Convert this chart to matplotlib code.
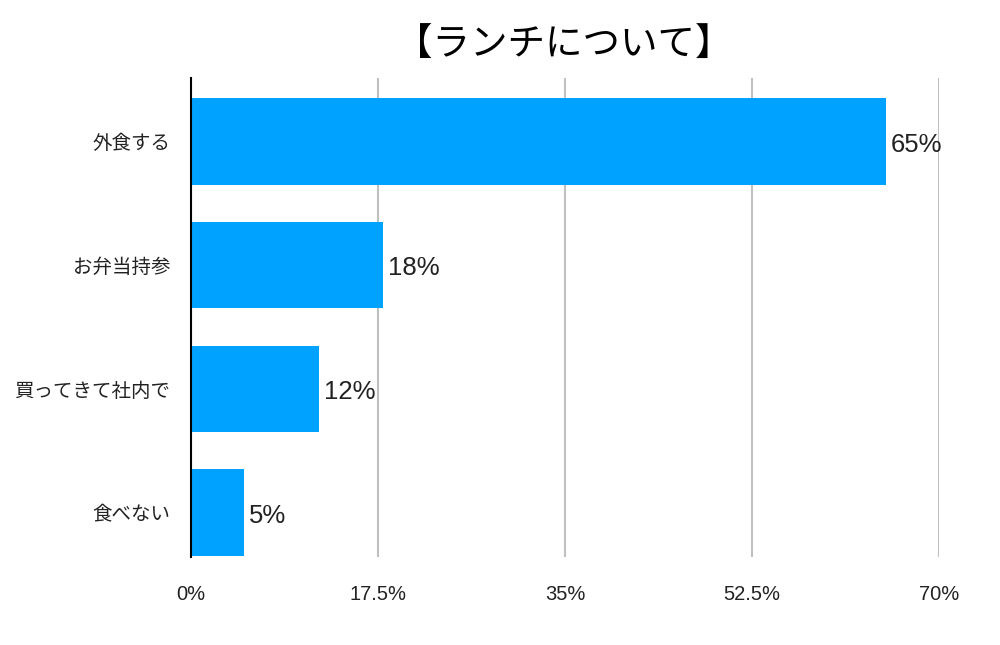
import matplotlib
matplotlib.use("Agg")
import matplotlib.pyplot as plt

plt.rcParams['font.family'] = ['Noto Sans CJK JP', 'DejaVu Sans']
num_font = ['Liberation Sans', 'DejaVu Sans']

categories = ['外食する', 'お弁当持参', '買ってきて社内で', '食べない']
values = [65, 18, 12, 5]
xticks = [0, 17.5, 35, 52.5, 70]
xticklabels = ['0%', '17.5%', '35%', '52.5%', '70%']

fig = plt.figure(figsize=(10, 6.45), dpi=100)
ax = fig.add_axes([0.191, 0.1364, 0.748, 0.7426])

ypos = range(len(categories))
ax.barh(ypos, values, height=0.70, color='#00A2FF', zorder=2)
for y, v in zip(ypos, values):
    ax.text(v + 0.45, y + 0.025, f'{v}%', va='center', ha='left', fontsize=18.5,
            color='#222222', family=num_font)

ax.set_xlim(0, 70)
ax.set_ylim(3.36, -0.513)
ax.set_xticks(xticks)
ax.set_xticklabels(xticklabels, fontsize=14.5, color='#222222', family=num_font)
ax.set_yticks(list(ypos))
ax.set_yticklabels(categories, fontsize=14, color='#222222')
ax.tick_params(axis='x', length=0, pad=20)
ax.tick_params(axis='y', length=0, pad=15)

ax.grid(axis='x', color='#c0c0c0', linewidth=1.5, zorder=1)
for s in ['top', 'right', 'bottom']:
    ax.spines[s].set_visible(False)
ax.spines['left'].set_color('black')
ax.spines['left'].set_linewidth(1.5)
ax.spines['left'].set_zorder(3)

fig.text(0.564, 0.93, '【ランチについて】', ha='center', va='center', fontsize=27, color='black')

fig.savefig('out.png', dpi=100)
